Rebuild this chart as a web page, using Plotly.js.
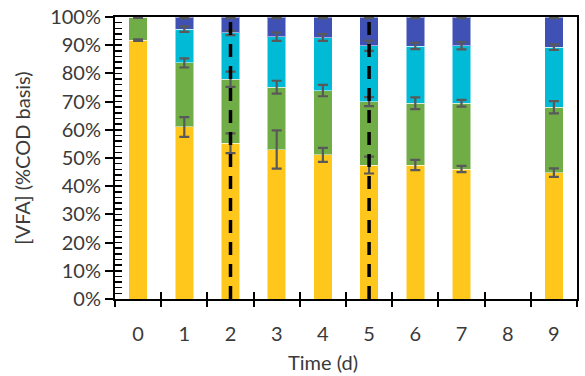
<!DOCTYPE html>
<html>
<head>
<meta charset="utf-8">
<script src="https://cdn.plot.ly/plotly-3.0.1.min.js"></script>
<style>html,body{margin:0;padding:0;background:#fff;}#chart{width:585px;height:376px;}</style>
</head>
<body>
<div id="chart"></div>
<script>
// Days (x positions) and labels
const days = [0, 1, 2, 3, 4, 5, 6, 7, 9];
const tickDays = [0, 1, 2, 3, 4, 5, 6, 7, 8, 9];
const tickLabels = ["0", "1", "2", "3", "4", "5", "6", "7", "8", "9"];
const boundaries = [-0.5, 0.5, 1.5, 2.5, 3.5, 4.5, 5.5, 6.5, 7.5, 8.5, 9.5];

// Stacked fractions (COD basis), bottom to top
const seriesA = [0.918, 0.610, 0.552, 0.530, 0.511, 0.475, 0.475, 0.461, 0.448];
const seriesB = [0.082, 0.227, 0.227, 0.221, 0.228, 0.225, 0.219, 0.233, 0.232];
const seriesC = [0.000, 0.120, 0.165, 0.179, 0.188, 0.198, 0.203, 0.204, 0.213];
const seriesD = [0.000, 0.043, 0.056, 0.070, 0.073, 0.102, 0.103, 0.102, 0.107];

// Error (± standard deviation)
const errA = [0.003, 0.035, 0.035, 0.068, 0.025, 0.030, 0.018, 0.011, 0.015];
const errB = [0.003, 0.016, 0.027, 0.023, 0.020, 0.016, 0.021, 0.012, 0.022];
const errC = [0.000, 0.010, 0.008, 0.015, 0.012, 0.018, 0.011, 0.013, 0.010];
const errD = [0.000, 0.004, 0.004, 0.004, 0.004, 0.004, 0.004, 0.004, 0.004];

// Days marked with dashed vertical lines
const markedDays = [2, 5];

const colors = ["#FFC71C", "#70AD47", "#00BAD6", "#3F51B5"];
const seriesList = [seriesA, seriesB, seriesC, seriesD];
const errList = [errA, errB, errC, errD];

const traces = seriesList.map((s, i) => ({
  type: "bar",
  x: days,
  y: s,
  marker: { color: colors[i], line: { color: "rgba(255,255,255,0.5)", width: 1 } },
  showlegend: false,
  hoverinfo: "skip"
}));

// error bars drawn on top, at the cumulative top of each segment
const running = days.map(() => 0);
seriesList.forEach((s, i) => {
  const tops = s.map((v, j) => (running[j] += v));
  const xs = [], ys = [], es = [];
  tops.forEach((t, j) => {
    if (s[j] > 0) { xs.push(days[j]); ys.push(t); es.push(errList[i][j]); }
  });
  traces.push({
    type: "scatter",
    mode: "markers",
    x: xs,
    y: ys,
    marker: { size: 1, color: "rgba(0,0,0,0)" },
    error_y: { type: "data", array: es, visible: true, color: "#595959", thickness: 2.2, width: 5 },
    cliponaxis: false,
    showlegend: false,
    hoverinfo: "skip"
  });
});

markedDays.forEach(d => {
  traces.push({
    type: "scatter",
    mode: "lines",
    x: [d, d],
    y: [0, 1],
    line: { color: "#000", width: 3.5, dash: "13px,9px" },
    showlegend: false,
    hoverinfo: "skip"
  });
});

// helper empty traces for tick overlay axes
traces.push({ type: "scatter", x: [], y: [], xaxis: "x2", yaxis: "y", showlegend: false });
traces.push({ type: "scatter", x: [], y: [], xaxis: "x3", yaxis: "y", showlegend: false });
traces.push({ type: "scatter", x: [], y: [], xaxis: "x", yaxis: "y2", showlegend: false });

const font = { family: "Lato, 'Open Sans', sans-serif", size: 20, color: "#3a3a3a" };

const layout = {
  width: 585,
  height: 376,
  margin: { l: 115, r: 8, t: 17, b: 77 },
  paper_bgcolor: "#fff",
  plot_bgcolor: "#fff",
  barmode: "stack",
  bargap: 0.6,
  font: font,
  xaxis: {
    range: [-0.5, 9.5],
    tickvals: tickDays,
    ticktext: tickLabels,
    ticks: "outside",
    ticklen: 16,
    tickcolor: "rgba(0,0,0,0)",
    showgrid: false,
    zeroline: false,
    showline: true,
    linecolor: "#000",
    linewidth: 2,
    mirror: true,
    tickfont: font
  },
  xaxis2: {
    overlaying: "x", anchor: "y", side: "bottom",
    range: [-0.5, 9.5], tickvals: boundaries, showticklabels: false,
    ticks: "outside", ticklen: 7, tickwidth: 2, tickcolor: "#000",
    showgrid: false, zeroline: false, showline: false
  },
  xaxis3: {
    overlaying: "x", anchor: "y", side: "bottom",
    range: [-0.5, 9.5], tickvals: boundaries, showticklabels: false,
    ticks: "inside", ticklen: 7, tickwidth: 2, tickcolor: "#000",
    showgrid: false, zeroline: false, showline: false
  },
  yaxis: {
    range: [0, 1],
    dtick: 0.1,
    tickformat: ".0%",
    ticks: "outside",
    ticklen: 8,
    tickwidth: 2,
    tickcolor: "#000",
    showgrid: false,
    zeroline: false,
    showline: true,
    linecolor: "#000",
    linewidth: 2,
    mirror: true,
    tickfont: font,
    title: { text: "[VFA] (%COD basis)", font: font, standoff: 14 }
  },
  yaxis2: {
    overlaying: "y", anchor: "x", side: "left",
    range: [0, 1], dtick: 0.02, showticklabels: false,
    ticks: "inside", ticklen: 7, tickwidth: 1.5, tickcolor: "#000",
    showgrid: false, zeroline: false, showline: false
  },
  annotations: [{
    text: "Time (d)",
    xref: "paper", yref: "paper",
    x: 0.45, y: -0.222,
    xanchor: "center", yanchor: "middle",
    showarrow: false,
    font: font
  }]
};

Plotly.newPlot("chart", traces, layout, { displayModeBar: false, staticPlot: true });
</script>
</body>
</html>
